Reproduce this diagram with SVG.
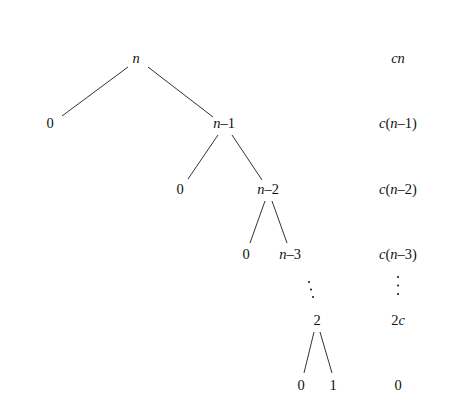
<svg xmlns="http://www.w3.org/2000/svg" width="468" height="409" viewBox="0 0 468 409">
<style>
text{font-family:"Liberation Serif","Times New Roman","DejaVu Serif",serif;font-size:14.5px;fill:#111;text-anchor:middle}
.i{font-style:italic}
line{stroke:#333;stroke-width:1}
.dot{fill:#111}
</style>
<rect width="468" height="409" fill="#fff"/>
<g id="connectors">
<line x1="128" y1="67" x2="62" y2="116"/>
<line x1="148" y1="67" x2="213" y2="117"/>
<line x1="218" y1="135" x2="188" y2="179"/>
<line x1="232" y1="135" x2="262" y2="180"/>
<line x1="265" y1="201" x2="250" y2="243"/>
<line x1="272" y1="201" x2="287" y2="243"/>
<line x1="314" y1="332" x2="304" y2="373"/>
<line x1="320" y1="332" x2="332" y2="373"/>
</g>
<g id="node-n"><text x="136" y="63" class="i">n</text></g>
<g id="node-0a"><text x="50" y="128">0</text></g>
<g id="node-n1"><text x="224" y="128"><tspan class="i">n</tspan>–1</text></g>
<g id="node-0b"><text x="180" y="194">0</text></g>
<g id="node-n2"><text x="268" y="194"><tspan class="i">n</tspan>–2</text></g>
<g id="node-0c"><text x="246" y="259">0</text></g>
<g id="node-n3"><text x="290" y="259"><tspan class="i">n</tspan>–3</text></g>
<g id="ddots"><circle class="dot" cx="309" cy="282" r="1"/><circle class="dot" cx="311" cy="289.5" r="1"/><circle class="dot" cx="313" cy="297" r="1"/></g>
<g id="node-2"><text x="317" y="325">2</text></g>
<g id="node-0d"><text x="301" y="390">0</text></g>
<g id="node-1"><text x="333" y="390">1</text></g>
<g id="costs">
<text x="398" y="63" class="i">cn</text>
<text x="398" y="128"><tspan class="i">c</tspan>(<tspan class="i">n</tspan>–1)</text>
<text x="398" y="194"><tspan class="i">c</tspan>(<tspan class="i">n</tspan>–2)</text>
<text x="398" y="259"><tspan class="i">c</tspan>(<tspan class="i">n</tspan>–3)</text>
<circle class="dot" cx="398" cy="277" r="1"/><circle class="dot" cx="398" cy="285.5" r="1"/><circle class="dot" cx="398" cy="294" r="1"/>
<text x="398" y="325">2<tspan class="i">c</tspan></text>
<text x="398" y="390">0</text>
</g>
</svg>
